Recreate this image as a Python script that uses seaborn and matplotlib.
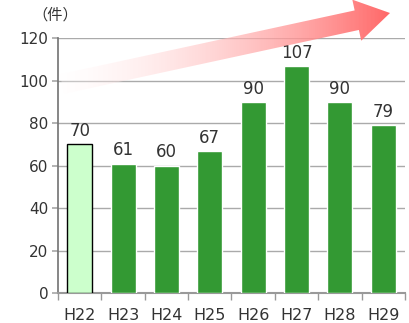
import numpy as np
import pandas as pd
import matplotlib
matplotlib.use('Agg')
import matplotlib.pyplot as plt
from matplotlib.patches import Polygon
import seaborn as sns

# chart data
years = ['H22', 'H23', 'H24', 'H25', 'H26', 'H27', 'H28', 'H29']
counts = [70, 61, 60, 67, 90, 107, 90, 79]
bar_colors = ['#ccffcc', '#339933', '#339933', '#339933', '#339933', '#339933', '#339933', '#339933']
y_ticks = [0, 20, 40, 60, 80, 100, 120]
unit_label = '（件）'

sns.set_theme(style='white')
plt.rcParams['font.family'] = ['DejaVu Sans', 'Noto Sans CJK JP']

df = pd.DataFrame({'year': years, 'count': counts})

fig = plt.figure(figsize=(4.09, 3.23), dpi=100)
ax = fig.add_axes([0.142, 0.093, 0.848, 0.788])

sns.barplot(data=df, x='year', y='count', hue='year', palette=bar_colors,
            legend=False, width=0.58, saturation=1, ax=ax, zorder=3)

# first bar has a black outline
ax.patches[0].set_edgecolor('black')
ax.patches[0].set_linewidth(1.0)

for i, v in enumerate(counts):
    ax.annotate(str(v), (i, v), xytext=(0, 6), textcoords='offset points',
                ha='center', va='baseline', fontsize=12, color='#333333', zorder=5)

ax.set_ylim(0, 120)
ax.set_xlim(-0.5, len(years) - 0.5)
ax.set_yticks(y_ticks)
ax.set_xlabel('')
ax.set_ylabel('')
ax.grid(axis='y', color='#aaaaaa', linewidth=1.0, zorder=0)
ax.set_axisbelow(True)

for s in ['top', 'right']:
    ax.spines[s].set_visible(False)
ax.spines['left'].set_color('#777777')
ax.spines['bottom'].set_color('#999999')
ax.spines['bottom'].set_linewidth(1.5)

ax.tick_params(axis='y', left=True, length=4, color='#aaaaaa', labelsize=11,
               labelcolor='#333333', pad=3)
ax.tick_params(axis='x', which='major', bottom=False, labelsize=11.5,
               labelcolor='#333333', pad=5)
ax.set_xticks(np.arange(-0.5, len(years)), minor=True)
ax.tick_params(axis='x', which='minor', bottom=True, length=5, color='#999999')

fig.text(55 / 409, 1 - 15 / 323, unit_label, ha='center', va='center',
         fontsize=11, color='#333333', family=['Noto Sans CJK JP', 'DejaVu Sans'])

# gradient arrow drawn on a pixel-space overlay
ov = fig.add_axes([0, 0, 1, 1], zorder=4)
ov.set_xlim(0, 409)
ov.set_ylim(323, 0)
ov.axis('off')
ov.patch.set_alpha(0)

tail = np.array([62.0, 84.0])
tip = np.array([390.0, 13.0])
d = tip - tail
L = np.hypot(*d)
u = d / L
n = np.array([-u[1], u[0]])
head_len, shaft_w, head_w = 34.0, 20.0, 42.0
base = tip - u * head_len
pts = [tail + n * shaft_w / 2, base + n * shaft_w / 2, base + n * head_w / 2, tip,
       base - n * head_w / 2, base - n * shaft_w / 2, tail - n * shaft_w / 2]
arrow = Polygon(pts, closed=True, facecolor='none', edgecolor='none')
ov.add_patch(arrow)

t = np.linspace(0, 1, 256)
grad = np.zeros((1, 256, 4))
grad[0, :, 0] = 1.0
grad[0, :, 1] = 1 - 0.6 * t ** 1.1
grad[0, :, 2] = 1 - 0.6 * t ** 1.1
grad[0, :, 3] = 0.3 + 0.7 * t
im = ov.imshow(grad, extent=[tail[0] - 5, tip[0] + 2, 100, 0], aspect='auto', zorder=4)
im.set_clip_path(arrow)
ov.set_xlim(0, 409)
ov.set_ylim(323, 0)

fig.savefig('out.png', dpi=100)
